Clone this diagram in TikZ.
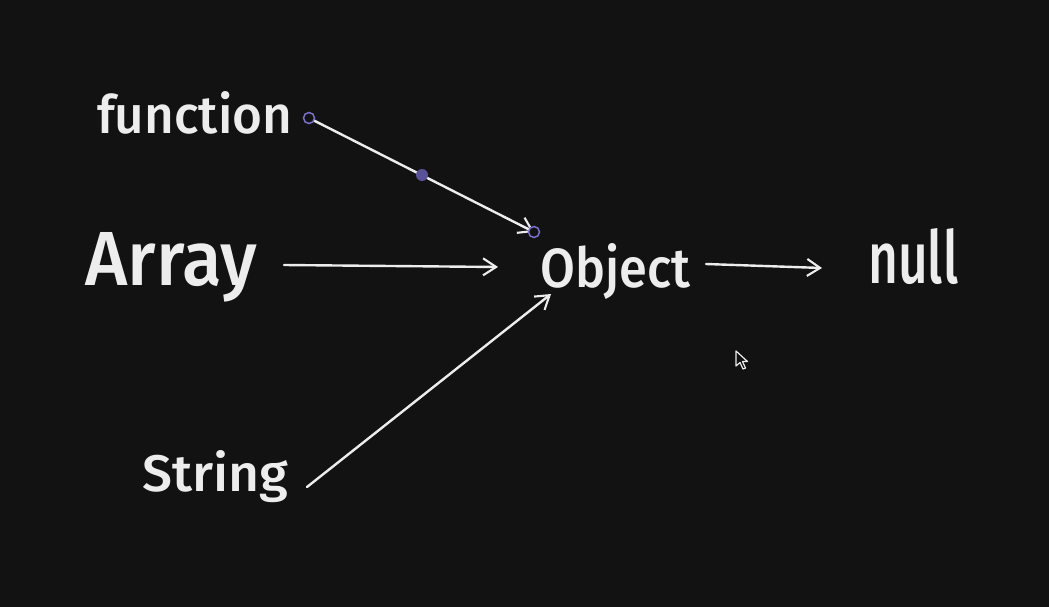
\documentclass[tikz,border=0pt]{standalone}
\usepackage{fontspec}
\setmainfont{Fira Sans}[UprightFont=* Medium]
\usetikzlibrary{arrows.meta}
\definecolor{bg}{HTML}{121212}
\definecolor{ink}{HTML}{EDEDED}
\definecolor{sel}{HTML}{7A70D0}
\definecolor{selfill}{HTML}{5A5299}
\tikzset{
  lbl/.style={anchor=base west, inner sep=0pt, text=ink},
  conn/.style={draw=ink, line width=2.4pt, line cap=round, -{Straight Barb[length=13pt,width=17pt,line width=2.1pt]}},
  handle/.style={draw=sel, line width=1.5pt, fill=bg},
  middot/.style={fill=selfill, draw=none},
}
\begin{document}
\begin{tikzpicture}[x=1pt,y=-1pt]
\fill[bg] (0,0) rectangle (1049,607);
\useasboundingbox (0,0) rectangle (1049,607);

\node[lbl] (function) at (97,134) {\resizebox{195pt}{42pt}{function}};
\node[lbl] (array) at (85,285) {\resizebox{172pt}{53pt}{Array}};
\node[lbl] (object) at (540,287) {\resizebox{150pt}{44pt}{Object}};
\node[lbl] (null) at (868,283) {\resizebox{90pt}{55pt}{null}};
\node[lbl] (string) at (142,491) {\resizebox{146pt}{41pt}{String}};

\coordinate (fnS) at (309,118);
\coordinate (fnE) at (534,232);
\coordinate (arS) at (284,265);
\coordinate (arE) at (498,267);
\coordinate (stS) at (307,487);
\coordinate (stE) at (551,294);
\coordinate (obS) at (706,264);
\coordinate (obE) at (822,268);
\coordinate (mid) at (422,175);

\draw[conn] (fnS) -- (fnE);
\draw[conn] (arS) -- (arE);
\draw[conn] (stS) -- (stE);
\draw[conn] (obS) -- (obE);

\draw[handle] (fnS) circle (5.5);
\draw[handle] (fnE) circle (5.5);
\fill[middot] (mid) circle (6);

% mouse cursor
\draw[ink, fill=bg, line width=1.2pt, line join=round]
  (736,351) -- (736,366) -- (740,362.5) -- (743,369) -- (745.5,368) -- (742.5,361.5) -- (747.5,361.5) -- cycle;
\end{tikzpicture}
\end{document}
